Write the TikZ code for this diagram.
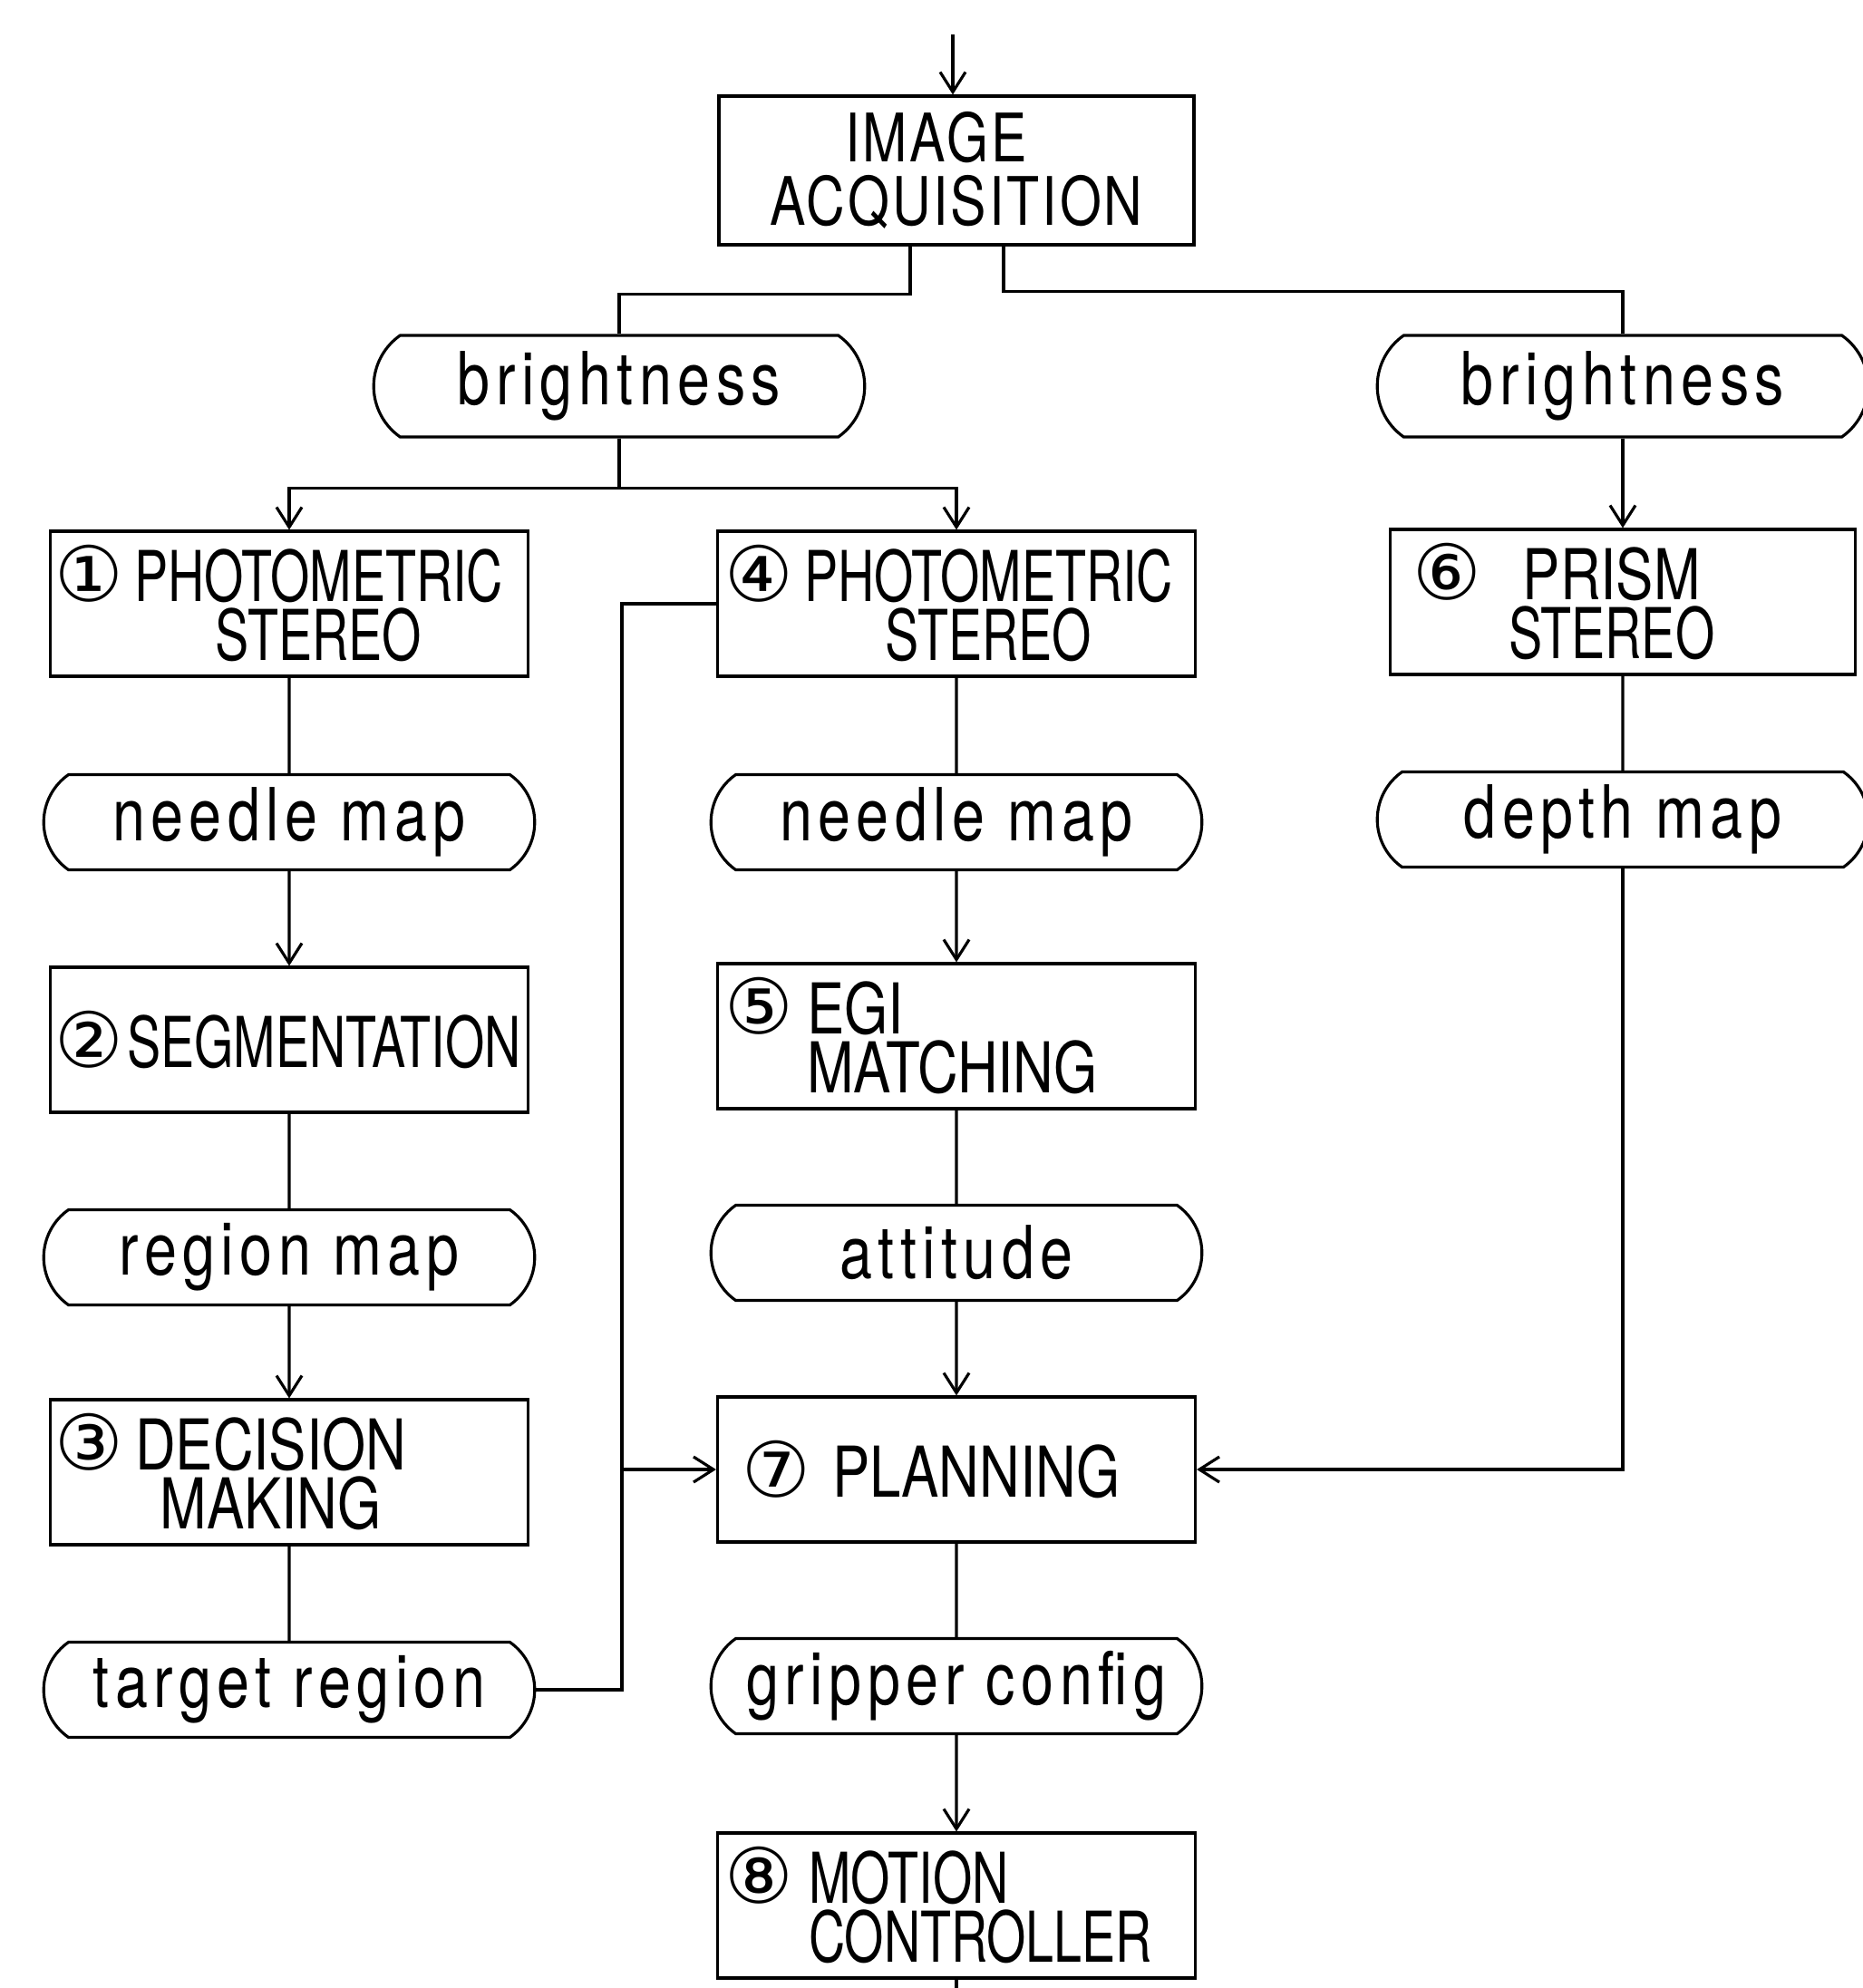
\documentclass[tikz,border=0pt]{standalone}
\usepackage{fontspec}
\setmainfont{TeX Gyre Heros}
\newfontfamily\capfont[FakeStretch=0.72]{TeX Gyre Heros}
\newfontfamily\capwide[FakeStretch=0.8]{TeX Gyre Heros}
\newfontfamily\iafont[FakeStretch=0.8,LetterSpace=4]{TeX Gyre Heros}
\newfontfamily\lowfont[FakeStretch=0.8,LetterSpace=8]{TeX Gyre Heros}
\newfontfamily\numfont{DejaVu Sans}
\usetikzlibrary{arrows.meta,shapes.misc}

\newcommand\cn[1]{{\numfont\fontsize{24}{24}\selectfont #1}}
\newcommand\stackc[1]{\vtop{\halign{\hfil##\hfil\cr#1\crcr}}}
\newcommand\stackl[1]{\vtop{\halign{##\hfil\cr#1\crcr}}}

\begin{document}
\begin{tikzpicture}[
  src/.style={draw, line width=0.9pt, minimum width=5.24cm, minimum height=1.64cm, align=center, font=\iafont\fontsize{21}{20}\selectfont},
  proc/.style={draw, line width=0.9pt, minimum width=5.27cm, minimum height=1.6cm, text width=5.17cm, inner xsep=0.05cm, align=left, font=\capfont\fontsize{22}{18.5}\selectfont},
  datum/.style={draw, line width=0.9pt, rounded rectangle, rounded rectangle arc length=110, minimum width=5.65cm, minimum height=1.05cm, font=\lowfont\fontsize{23}{26}\selectfont},
  link/.style={line width=0.9pt},
  arr/.style={link, -{Straight Barb[length=2.2mm,width=2.8mm]}}
]
\useasboundingbox (0,0) rectangle (20.54,-21.93);

\node[src] (ia) at (10.55,-1.88) {IMAGE\hspace*{0.45cm}\\ACQUISITION};
\node[datum, minimum height=1.12cm] (br1) at (6.83,-4.26) {brightness};
\node[datum, minimum height=1.12cm] (br2) at (17.9,-4.26) {brightness};

\node[proc] (ps1) at (3.19,-6.66) {\cn{①}\hspace{0.12cm}\stackc{PHOTOMETRIC\cr STEREO}};
\node[proc] (ps4) at (10.55,-6.66) {\hspace*{0.03cm}\cn{④}\hspace{0.12cm}\stackc{PHOTOMETRIC\cr STEREO}};
\node[proc, minimum width=5.13cm, text width=5.03cm] (pr6) at (17.9,-6.64) {\hspace*{0.2cm}\cn{⑥}\hspace{0.3cm}\stackc{{\capwide PRISM}\cr STEREO}};

\node[datum] (nm1) at (3.19,-9.07) {needle map};
\node[datum] (nm4) at (10.55,-9.07) {needle map};
\node[datum] (dm6) at (17.9,-9.04) {depth map};

\node[proc] (sg2) at (3.19,-11.47) {\cn{②}\hspace{0.04cm}SEGMENTATION};
\node[proc, font=\capwide\fontsize{22}{18.5}\selectfont] (eg5) at (10.55,-11.43) {\hspace*{0.03cm}\cn{⑤}\hspace{0.15cm}\stackl{EGI\cr MATCHING}};

\node[datum] (rm2) at (3.19,-13.87) {region map};
\node[datum] (at5) at (10.55,-13.82) {attitude};

\node[proc, font=\capwide\fontsize{22}{18.5}\selectfont] (dc3) at (3.19,-16.24) {\cn{③}\hspace{0.13cm}\stackc{DECISION\cr MAKING}};
\node[proc, font=\capwide\fontsize{22}{18.5}\selectfont] (pl7) at (10.55,-16.21) {\hspace*{0.22cm}\cn{⑦}\hspace{0.24cm}PLANNING};

\node[datum] (tr3) at (3.19,-18.64) {target region};
\node[datum] (gc7) at (10.55,-18.6) {gripper config};

\node[proc] (mc8) at (10.55,-21.02) {\hspace*{0.03cm}\cn{⑧}\hspace{0.17cm}\stackl{MOTION\cr CONTROLLER}};

% input and the two brightness branches
\coordinate (feed) at (10.51,-0.38);
\draw[arr] (feed) -- (feed |- ia.north);
\coordinate (iaL) at (10.04,0);
\coordinate (iaR) at (11.07,0);
\draw[link] (iaL |- ia.south) -- ++(0,-0.53) -| (br1.north);
\draw[link] (iaR |- ia.south) -- ++(0,-0.5) -| (br2.north);
\draw[link] (br1.south) -- ++(0,-0.55) coordinate (fork);
\draw[arr] (fork) -| (ps1.north);
\draw[arr] (fork) -| (ps4.north);
\draw[arr] (br2.south) -- (pr6.north);

% left column
\draw[link] (ps1) -- (nm1);
\draw[arr] (nm1) -- (sg2);
\draw[link] (sg2) -- (rm2);
\draw[arr] (rm2) -- (dc3);
\draw[link] (dc3) -- (tr3);

% middle column
\draw[link] (ps4) -- (nm4);
\draw[arr] (nm4) -- (eg5);
\draw[link] (eg5) -- (at5);
\draw[arr] (at5) -- (pl7);
\draw[link] (pl7) -- (gc7);
\draw[arr] (gc7) -- (mc8);
\coordinate (exit) at (10.55,-21.93);
\draw[link] (mc8) -- (exit);

% right column
\draw[link] (pr6) -- (dm6);
\draw[arr] (dm6.south) |- (pl7.east);

% target region bus
\coordinate (bus) at (6.86,0);
\draw[link] (tr3.east) -| (bus |- ps4.west) -- (ps4.west);
\draw[arr] (bus |- pl7.west) -- (pl7.west);

\end{tikzpicture}
\end{document}
